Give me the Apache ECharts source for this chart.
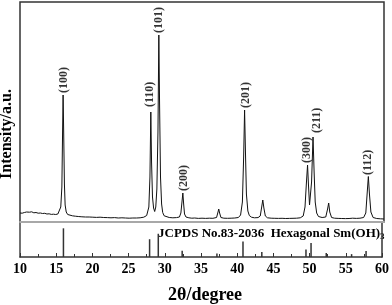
<!DOCTYPE html>
<html>
<head>
<meta charset="utf-8">
<script src="https://cdn.jsdelivr.net/npm/echarts@6/dist/echarts.min.js"></script>
<style>
html,body{margin:0;padding:0;background:#fff;}
#c{width:392px;height:305px;}
</style>
</head>
<body>
<div id="c"></div>
<script>
// Measured XRD pattern: [2theta (degree), intensity (a.u.)]
var patternTheta = [10.0,10.3,10.6,10.9,11.1,11.3,11.6,11.9,12.2,12.5,12.8,13.1,13.4,13.7,14.0,14.3,14.6,14.9,15.2,15.4,15.6,15.75,15.85,15.92,16.0,16.1,16.2,16.35,16.55,16.8,17.2,17.6,18.0,18.5,19.0,19.5,20.0,20.5,21.0,21.5,22.0,22.5,23.0,23.5,24.0,24.5,25.0,25.5,26.0,26.5,27.0,27.4,27.7,27.85,27.97,28.07,28.2,28.35,28.5,28.65,28.8,28.95,29.07,29.17,29.3,29.45,29.6,29.8,30.0,30.5,31.0,31.5,31.9,32.1,32.25,32.37,32.48,32.6,32.8,33.2,33.6,34.0,34.5,35.0,35.5,36.0,36.5,37.0,37.2,37.3,37.42,37.6,38.0,38.5,39.0,39.5,40.0,40.3,40.55,40.72,40.85,40.97,41.1,41.3,41.5,41.8,42.2,42.7,43.0,43.2,43.35,43.5,43.7,44.0,44.5,45.0,45.5,46.0,46.5,47.0,47.5,48.0,48.5,48.9,49.15,49.35,49.5,49.62,49.77,49.9,50.05,50.25,50.4,50.55,50.75,51.0,51.5,52.0,52.25,52.4,52.55,52.8,53.2,53.7,54.2,54.7,55.2,55.7,56.2,56.7,57.2,57.5,57.7,57.85,58.0,58.2,58.5,59.0,59.5,60.0];
var patternIntensity = [90,88,95,100,108,98,102,92,95,88,90,85,87,80,82,76,78,75,80,95,150,350,900,1270,900,380,170,100,75,65,62,58,55,52,50,50,48,46,48,45,44,42,44,40,42,40,38,40,40,42,48,65,150,450,1100,600,250,140,105,150,330,900,1870,1200,450,180,95,62,52,45,42,44,50,90,200,290,180,80,50,42,38,40,36,38,36,38,37,45,100,130,90,45,38,37,38,40,45,70,200,650,1120,700,280,110,65,48,42,44,60,150,220,140,60,42,38,37,36,37,35,36,37,38,42,60,150,400,570,380,170,155,400,850,500,200,90,55,45,50,130,190,100,45,38,36,35,34,35,38,36,38,45,90,300,455,280,100,45,35,32,30];

// Peak indexing labels
var hklNames = ['(100)','(110)','(101)','(200)','(201)','(300)','(211)','(112)'];
var hklTheta = [15.98,27.9,29.13,32.45,41.0,49.38,50.75,57.84];
var hklLevel = [1290,1150,1890,310,1140,590,890,470];

// JCPDS No.83-2036 reference lines
var refTheta = [16.0,27.9,29.1,32.4,37.2,40.8,43.4,49.5,50.2,52.3,55.8,57.8];
var refIntensity = [100,62,81,22,12,54,17,26,49,14,10,21];

// Axis ticks
var xMin = 10, xMax = 60, xStep = 5;

var FONT = "'Times New Roman','Liberation Serif',serif";

var pattern = patternTheta.map(function(t,i){return [t, patternIntensity[i]];});
var hkl = hklTheta.map(function(t,i){return {value:[t, hklLevel[i]], name:hklNames[i]};});
var refs = refTheta.map(function(t,i){return [t, refIntensity[i]];});

var chart = echarts.init(document.getElementById('c'), null, {renderer:'canvas'});
chart.setOption({
  animation:false,
  backgroundColor:'#fff',
  grid:[
    {left:20, right:8, top:2, height:220, show:true, borderColor:'#333', borderWidth:1.5, backgroundColor:'transparent'},
    {left:20, right:8, top:222, height:45}
  ],
  xAxis:[
    {gridIndex:0, type:'value', min:xMin, max:xMax, interval:xStep,
      axisLine:{show:true, lineStyle:{color:'#a8a8a8', width:2}},
      axisTick:{show:false}, axisLabel:{show:false}, splitLine:{show:false}},
    {gridIndex:1, type:'value', min:xMin, max:xMax, interval:xStep,
      axisLine:{show:true, lineStyle:{color:'#333', width:1.5}},
      axisTick:{show:true, inside:true, length:4, lineStyle:{color:'#333', width:1}},
      minorTick:{show:true, splitNumber:2, length:3, lineStyle:{color:'#333', width:1}},
      axisLabel:{show:true, margin:5, color:'#000', fontFamily:FONT, fontWeight:'bold', fontSize:14},
      splitLine:{show:false},
      name:'2θ/degree', nameLocation:'middle', nameGap:29,
      nameTextStyle:{color:'#000', fontFamily:FONT, fontWeight:'bold', fontSize:18, padding:[0,0,0,8]}}
  ],
  yAxis:[
    {gridIndex:0, type:'value', min:0, max:2200,
      axisLine:{show:false}, axisTick:{show:false}, axisLabel:{show:false}, splitLine:{show:false}},
    {gridIndex:1, type:'value', min:0, max:122, position:'left',
      axisLine:{show:true, lineStyle:{color:'#444', width:1.5}},
      axisTick:{show:false}, axisLabel:{show:false}, splitLine:{show:false}},
    {gridIndex:1, type:'value', min:0, max:122, position:'right',
      axisLine:{show:true, lineStyle:{color:'#333', width:1.5}},
      axisTick:{show:false}, axisLabel:{show:false}, splitLine:{show:false}}
  ],
  series:[
    {type:'line', xAxisIndex:0, yAxisIndex:0, data:pattern, symbol:'none',
      lineStyle:{color:'#111', width:1}},
    {type:'scatter', xAxisIndex:0, yAxisIndex:0, data:hkl, symbolSize:0,
      label:{show:true, position:'top', distance:0, rotate:90, align:'left', verticalAlign:'middle',
        formatter:function(p){return p.name;}, color:'#000', fontFamily:FONT, fontWeight:'bold', fontSize:12}},
    {type:'bar', xAxisIndex:1, yAxisIndex:1, data:refs, barWidth:1.5,
      itemStyle:{color:'#333'}}
  ],
  graphic:[
    {type:'text', x:7, y:134, rotation:Math.PI/2,
      style:{text:'Intensity/a.u.', fill:'#000', font:'bold 16px '+FONT, textAlign:'center', textVerticalAlign:'middle'}},
    {type:'text', x:158, y:226, style:{
      text:'{a|JCPDS No.83-2036  Hexagonal Sm(OH)}{s|3}',
      rich:{a:{fill:'#000', font:'bold 13px '+FONT}, s:{fill:'#000', font:'bold 9px '+FONT, padding:[6,0,0,0]}}}}
  ]
});
</script>
</body>
</html>
